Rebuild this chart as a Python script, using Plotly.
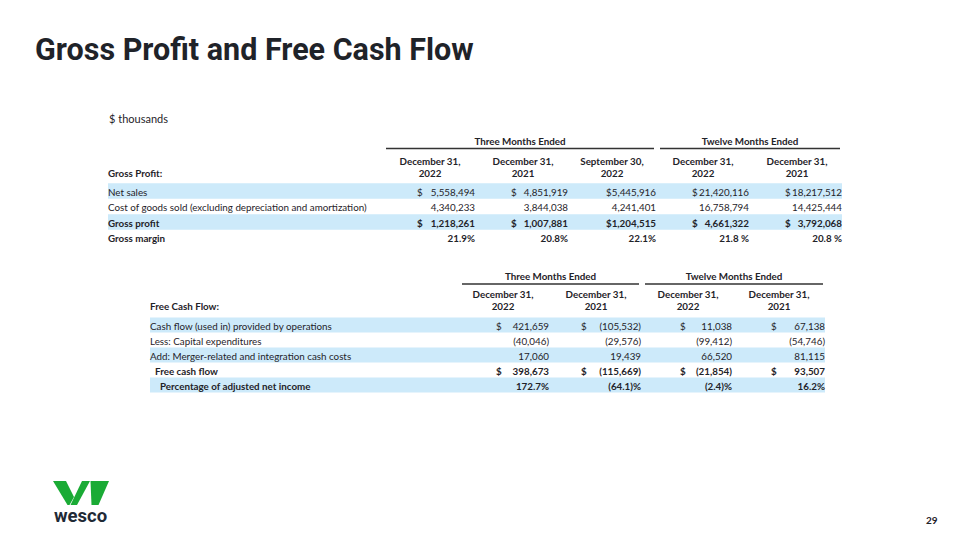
import plotly.graph_objects as go

# $ thousands -- Gross profit table
gp_periods = ["December 31,<br>2022", "December 31,<br>2021", "September 30,<br>2022",
              "December 31,<br>2022", "December 31,<br>2021"]
gp_labels = ["Net sales", "Cost of goods sold (excluding depreciation and amortization)",
             "Gross profit", "Gross margin"]
net_sales = [5558494, 4851919, 5445916, 21420116, 18217512]
cogs = [4340233, 3844038, 4241401, 16758794, 14425444]
gross_profit = [1218261, 1007881, 1204515, 4661322, 3792068]
gross_margin = [21.9, 20.8, 22.1, 21.8, 20.8]

# Free cash flow table
fcf_periods = ["December 31,<br>2022", "December 31,<br>2021", "December 31,<br>2022", "December 31,<br>2021"]
fcf_labels = ["Cash flow (used in) provided by operations", "Less: Capital expenditures",
              "Add: Merger-related and integration cash costs", "Free cash flow",
              "Percentage of adjusted net income"]
ops_cash = [421659, -105532, 11038, 67138]
capex = [-40046, -29576, -99412, -54746]
merger = [17060, 19439, 66520, 81115]
free_cash = [398673, -115669, -21854, 93507]
pct_adj_income = [172.7, -64.1, -2.4, 16.2]

groups = ["Three Months Ended", "Twelve Months Ended"]

BLUE = "#cdeafa"
INK = "#1f2329"
FONT = "Lato"
FS = 9.8
DY = 2.5  # text sits a touch low of centre in the slide


def money(v):
    s = f"{abs(v):,}"
    return f"({s})" if v < 0 else s


def pct(v, sep=""):
    s = f"{abs(v):.1f}"
    return (f"({s})" if v < 0 else s) + sep + "%"


def b(s):
    return "<b>" + s + "</b>"


fig = go.Figure()


def text_col(xs, ys, texts, pos, size=FS):
    fig.add_trace(go.Scatter(x=xs, y=[y + DY for y in ys], text=texts, mode="text",
                             textposition=pos,
                             textfont=dict(family=FONT, size=size, color=INK),
                             hoverinfo="skip", cliponaxis=False))


def draw_table(title, labels, label_x, indents, periods, head_x, rows, dollar_rows, bold_rows,
               right_x, dollar_x, y0, step, band_x, head_y, spans):
    n = len(labels)
    ys = [y0 + i * step for i in range(n)]
    for i in range(0, n, 2):
        fig.add_shape(type="rect", xref="x", yref="y", x0=band_x[0], x1=band_x[1],
                      y0=ys[i] - step / 2, y1=ys[i] + step / 2, fillcolor=BLUE,
                      line_width=0, layer="below")
    # labels
    text_col([label_x + 5 * d for d in indents], ys,
             [b(l) if i in bold_rows else l for i, l in enumerate(labels)], "middle right")
    # header
    text_col([label_x], [head_y + 12], [b(title)], "middle right")
    text_col(head_x, [head_y + 6] * len(periods), [b(p) for p in periods], "middle center")
    for j in range(len(periods)):
        cells = []
        dxs, dys, dts = [], [], []
        for i, row in enumerate(rows):
            s = row[j]
            if i in dollar_rows:
                if dollar_x[j] is None:
                    s = "$" + s
                else:
                    dxs.append(dollar_x[j])
                    dys.append(ys[i])
                    dts.append(b("$") if i in bold_rows else "$")
            cells.append(b(s) if i in bold_rows else s)
        text_col([right_x[j]] * n, ys, cells, "middle left")
        if dxs:
            text_col(dxs, dys, dts, "middle right")
    for text, x0, x1, yl in spans:
        fig.add_shape(type="line", xref="x", yref="y", x0=x0, x1=x1, y0=yl, y1=yl,
                      line=dict(color="#333333", width=1.3))
        text_col([(x0 + x1) / 2], [yl - 8.5], [b(text)], "middle center")


gp_rows = [[money(v) for v in net_sales], [money(v) for v in cogs],
           [money(v) for v in gross_profit],
           [pct(v, "" if j < 3 else " ") for j, v in enumerate(gross_margin)]]
draw_table("Gross Profit:", gp_labels, 108, [0, 0, 0, 0], gp_periods,
           [430, 523, 612, 703, 797], gp_rows, {0, 2}, {2, 3},
           [475, 568, 656, 749, 842], [417, 511, None, 692, 785],
           191, 15.5, (108, 842), 160,
           [(groups[0], 386, 654, 148.5), (groups[1], 660, 840, 148.5)])

fcf_rows = [[money(v) for v in ops_cash], [money(v) for v in capex], [money(v) for v in merger],
            [money(v) for v in free_cash], [pct(v) for v in pct_adj_income]]
draw_table("Free Cash Flow:", fcf_labels, 150, [0, 0, 0, 1, 2], fcf_periods,
           [503, 596, 688, 779], fcf_rows, {0, 3}, {3, 4},
           [549, 641, 732, 825], [496, 581, 680, 771],
           325, 15, (150, 825), 293,
           [(groups[0], 462, 639, 284), (groups[1], 645, 823, 284)])

fig.add_annotation(text="<b>Gross Profit and Free Cash Flow</b>", xref="x", yref="y",
                   x=33, y=49, xanchor="left", yanchor="middle", showarrow=False,
                   font=dict(family="Roboto", size=30.5, color=INK))
fig.add_annotation(text="$ thousands", xref="x", yref="y", x=107, y=118,
                   xanchor="left", yanchor="middle", showarrow=False,
                   font=dict(family=FONT, size=11, color=INK))
fig.add_annotation(text="<b>29</b>", xref="x", yref="y", x=932, y=520,
                   xanchor="center", yanchor="middle", showarrow=False,
                   font=dict(family=FONT, size=10, color=INK))

# wesco logo
GREEN = "#1aab35"
logo = [
    [(53, 481), (66, 481), (74, 497), (69.5, 505), (67.5, 505)],
    [(70.5, 505), (82, 481), (90, 481), (77, 505)],
    [(90.5, 481), (109, 481), (98.5, 505), (91.5, 505)],
]
for poly in logo:
    path = "M " + " L ".join(f"{x},{y}" for x, y in poly) + " Z"
    fig.add_shape(type="path", xref="x", yref="y", path=path, fillcolor=GREEN, line_width=0)
fig.add_annotation(text="<b>wesco</b>", xref="x", yref="y", x=80.5, y=516,
                   xanchor="center", yanchor="middle", showarrow=False,
                   font=dict(family="Roboto", size=18.5, color="#1f2a36"))

fig.update_xaxes(range=[0, 960], visible=False, fixedrange=True)
fig.update_yaxes(range=[540, 0], visible=False, fixedrange=True)
fig.update_layout(width=960, height=540, margin=dict(l=0, r=0, t=0, b=0),
                  paper_bgcolor="white", plot_bgcolor="white", showlegend=False)

fig.write_html("out.html", config={"displayModeBar": False},
               post_script="document.body.style.margin='0';")
